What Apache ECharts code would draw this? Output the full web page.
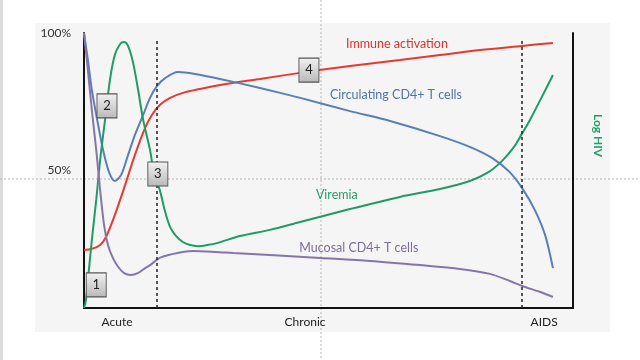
<!DOCTYPE html>
<html><head><meta charset="utf-8">
<script src="https://cdn.jsdelivr.net/npm/echarts@6/dist/echarts.min.js"></script>
<style>html,body{margin:0;padding:0;background:#fff}#c{width:640px;height:360px}</style>
</head><body><div id="c"></div>
<script>
// Time (0-100 across plot) and percentage values
const redData = [[0,21.1],[1.6,21.5],[3.3,22.9],[4.5,25.8],[6.3,33.8],[8.4,44.7],[10.4,55.6],[12.5,65.5],[13.9,70.2],[15.5,73.8],[17.6,76.4],[20.7,78.5],[23.7,79.6],[27.8,81.1],[36.0,83.3],[44.2,85.5],[54.4,88.0],[64.6,90.2],[72.8,92.0],[81.0,93.8],[89.6,95.3],[95.9,96.4]];
const blueData = [[0,100],[0.8,90.2],[1.6,79.3],[2.7,68.4],[3.9,57.5],[5.1,49.5],[6.3,46.2],[7.6,48.4],[9.0,55.6],[10.4,62.9],[12.1,70.2],[13.5,76.4],[14.9,80.7],[16.6,83.6],[19.2,85.8],[22.7,85.1],[27.8,83.3],[36.0,80.0],[44.2,76.4],[54.4,71.6],[62.6,68.0],[72.8,62.5],[79.0,58.5],[83.5,54.5],[87.0,49.5],[89.6,43.6],[92.2,35.6],[94.3,26.5],[95.9,14.5]];
const greenData = [[0,0],[0.4,2.9],[1.0,13.8],[1.6,24.7],[2.5,39.3],[3.3,53.8],[4.3,68.4],[5.3,82.9],[6.3,92.0],[7.4,96.0],[8.2,96.7],[9.0,95.3],[10.0,89.5],[11.0,80.0],[12.1,68.4],[13.5,57.5],[14.3,49.1],[15.5,42.9],[16.6,34.9],[17.6,29.5],[18.8,26.2],[20.2,24.0],[21.7,22.9],[23.3,22.5],[25.2,22.9],[27.2,23.6],[31.9,26.2],[38.0,28.4],[44.2,31.3],[54.4,36.0],[64.6,40.4],[72.8,43.3],[78.9,46.2],[82.8,49.5],[85.5,53.5],[87.9,58.5],[89.6,63.5],[91.2,68.4],[93.3,75.6],[95.9,84.7]];
const purpleData = [[0,100],[0.8,86.5],[1.6,72.0],[2.5,57.5],[3.3,42.9],[4.1,30.2],[4.9,22.9],[5.9,18.2],[7.0,14.9],[8.2,12.7],[9.6,12.0],[11.0,12.7],[12.5,14.5],[13.5,15.6],[15.5,18.2],[18.0,19.6],[20.2,20.4],[22.3,20.7],[26.8,20.4],[30.5,20.0],[38.0,19.3],[48.3,18.2],[58.5,17.1],[68.7,15.6],[76.9,14.2],[83.0,12.4],[87.1,9.8],[89.6,8.0],[93.3,5.8],[95.9,4.0]];

const seriesNames = ['Immune activation','Circulating CD4+ T cells','Viremia','Mucosal CD4+ T cells'];
const seriesLabelPos = [[64.0,96.0],[63.8,77.5],[51.7,41.1],[56.2,21.8]];
const phaseLabels = ['Acute','Chronic','AIDS'];
const phaseLabelPos = [6.75,45.2,94.1];
const phaseBounds = [14.9,89.6];
const yTickValues = [50,100];
const boxNumbers = ['1','2','3','4'];
const boxPos = [[2.5,8.4],[4.7,73.5],[15.1,48.7],[46.0,86.5]];

const colors = ['#e53a2f','#5a7fb4','#1f9a68','#8576a9'];
const textColors = ['#d8352d','#4f74a8','#2d9a6d','#7d6c9f'];
const FONT = 'Lato';

function labelPoint(i){
  return {
    symbol:'circle', symbolSize:0, silent:true,
    data:[{coord:seriesLabelPos[i], value:seriesNames[i]}],
    label:{show:true, position:'inside', formatter:seriesNames[i], color:textColors[i], fontFamily:FONT, fontSize:12.5}
  };
}

const boxMark = {
  symbol:'rect', symbolSize:[20,24], silent:true,
  itemStyle:{
    color:new echarts.graphic.LinearGradient(0,0,0,1,[{offset:0,color:'#f2f2f2'},{offset:1,color:'#b8b8b8'}]),
    borderColor:'#555', borderWidth:1
  },
  label:{show:true, position:'inside', color:'#222', fontFamily:FONT, fontSize:13},
  data: boxNumbers.map((n,i)=>({coord:boxPos[i], value:n, label:{formatter:n}}))
};

const datasets = [redData, blueData, greenData, purpleData];
const series = datasets.map((d,i)=>({
  type:'line', name:seriesNames[i], data:d, smooth:0.3, symbol:'none',
  lineStyle:{color:colors[i], width:2}, z:3,
  markPoint: labelPoint(i)
}));
series.push({
  type:'line', data:[], symbol:'none', z:5,
  markLine:{symbol:'none', silent:true, label:{show:false},
    lineStyle:{color:'#222', type:[3,3], width:1.5},
    data: phaseBounds.map(v=>[{coord:[v,0]},{coord:[v,98]}])},
  markPoint: boxMark
});

const chart = echarts.init(document.getElementById('c'), null, {renderer:'canvas'});
chart.setOption({
  animation:false,
  backgroundColor:'#ffffff',
  grid:{left:84, right:67, top:33, bottom:52},
  graphic:[
    {type:'rect', z:-20, shape:{x:35,y:23,width:575,height:309}, style:{fill:'#f5f5f6'}},
    {type:'rect', z:-20, shape:{x:0,y:0,width:3,height:360}, style:{fill:'#dcdcdc'}},
    {type:'line', z:-10, shape:{x1:321,y1:0,x2:321,y2:360}, style:{stroke:'#b5b5b5', lineDash:[2,2], lineWidth:1}},
    {type:'line', z:-10, shape:{x1:0,y1:179,x2:640,y2:179}, style:{stroke:'#b5b5b5', lineDash:[2,2], lineWidth:1}},
    {type:'text', z:10, x:604, y:114, rotation:-Math.PI/2, style:{text:'Log HIV', fill:'#22a06b', font:'bold 12px Lato'}}
  ],
  xAxis:{type:'value', min:0, max:100, splitLine:{show:false},
    axisLine:{show:true, onZero:false, lineStyle:{color:'#111', width:2}},
    axisTick:{show:false},
    axisLabel:{customValues:phaseLabelPos, formatter:(v)=>{const i=phaseLabelPos.indexOf(v);return i>=0?phaseLabels[i]:'';}, color:'#222', fontFamily:FONT, fontSize:12, margin:8}
  },
  yAxis:[{type:'value', min:0, max:100, splitLine:{show:false},
    axisLine:{show:true, lineStyle:{color:'#111', width:2}},
    axisTick:{show:false},
    axisLabel:{customValues:yTickValues, formatter:'{value}%', color:'#333', fontFamily:FONT, fontSize:12, margin:13}
  },{type:'value', min:0, max:100, position:'right', splitLine:{show:false},
    axisLine:{show:true, lineStyle:{color:'#111', width:2}}, axisTick:{show:false}, axisLabel:{show:false}}],
  series:series
});
</script></body></html>
